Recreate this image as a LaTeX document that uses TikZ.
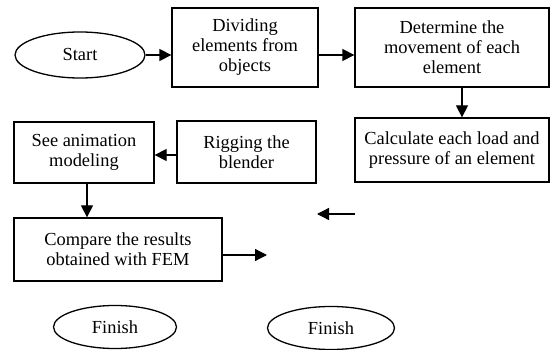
\documentclass[tikz,border=0pt]{standalone}
\usepackage{fontspec}
\setmainfont{Liberation Serif}
\usetikzlibrary{shapes.geometric,arrows.meta}

\begin{document}
\begin{tikzpicture}[x=1pt,y=-1pt,line width=1.3pt,
  >={Triangle[length=12pt,width=12pt]},
  font=\fontsize{18.4}{20}\selectfont]
\useasboundingbox (0,0) rectangle (550,350);
\begin{scope}[every node/.style={draw,align=center,inner sep=0pt}]
    \node[ellipse,minimum width=130,minimum height=46] (start) at (80,55) {Start};
    \node[minimum width=146,minimum height=79] (divide) at (245,47.5) {Dividing\\elements from\\objects};
    \node[minimum width=194,minimum height=79] (determine) at (452,47.5) {Determine the\\movement of each\\element};
    \node[minimum width=194,minimum height=64] (calc) at (452,150) {Calculate each load and\\pressure of an element};
    \node[minimum width=139,minimum height=62] (rig) at (246.5,152) {Rigging the\\blender};
    \node[minimum width=140,minimum height=61] (anim) at (84,152.5) {See animation\\modeling};
    \node[minimum width=208,minimum height=63] (compare) at (118,249.5) {Compare the results\\obtained with FEM};
    \node[ellipse,minimum width=123,minimum height=43] (finA) at (115,327) {Finish};
    \node[ellipse,minimum width=127,minimum height=43] (finB) at (331,328) {Finish};
\end{scope}

\coordinate (c1) at (267,255);
\coordinate (c2) at (355,214);
\coordinate (c3) at (317,214);

\draw[->] (start) -- (start -| divide.west);
\draw[->] (divide.east |- start) -- (determine.west |- start);
\draw[->] ([xshift=10]determine.south) -- ([xshift=10]calc.north);
\draw[->] (rig.west |- 0,155) -- (anim.east |- 0,155);
\draw[->] ([xshift=3]anim.south) -- ([xshift=3]anim.south |- compare.north);
\draw[->] (compare.east |- c1) -- (c1);
\draw[->] (c2) -- (c3);
\end{tikzpicture}
\end{document}
